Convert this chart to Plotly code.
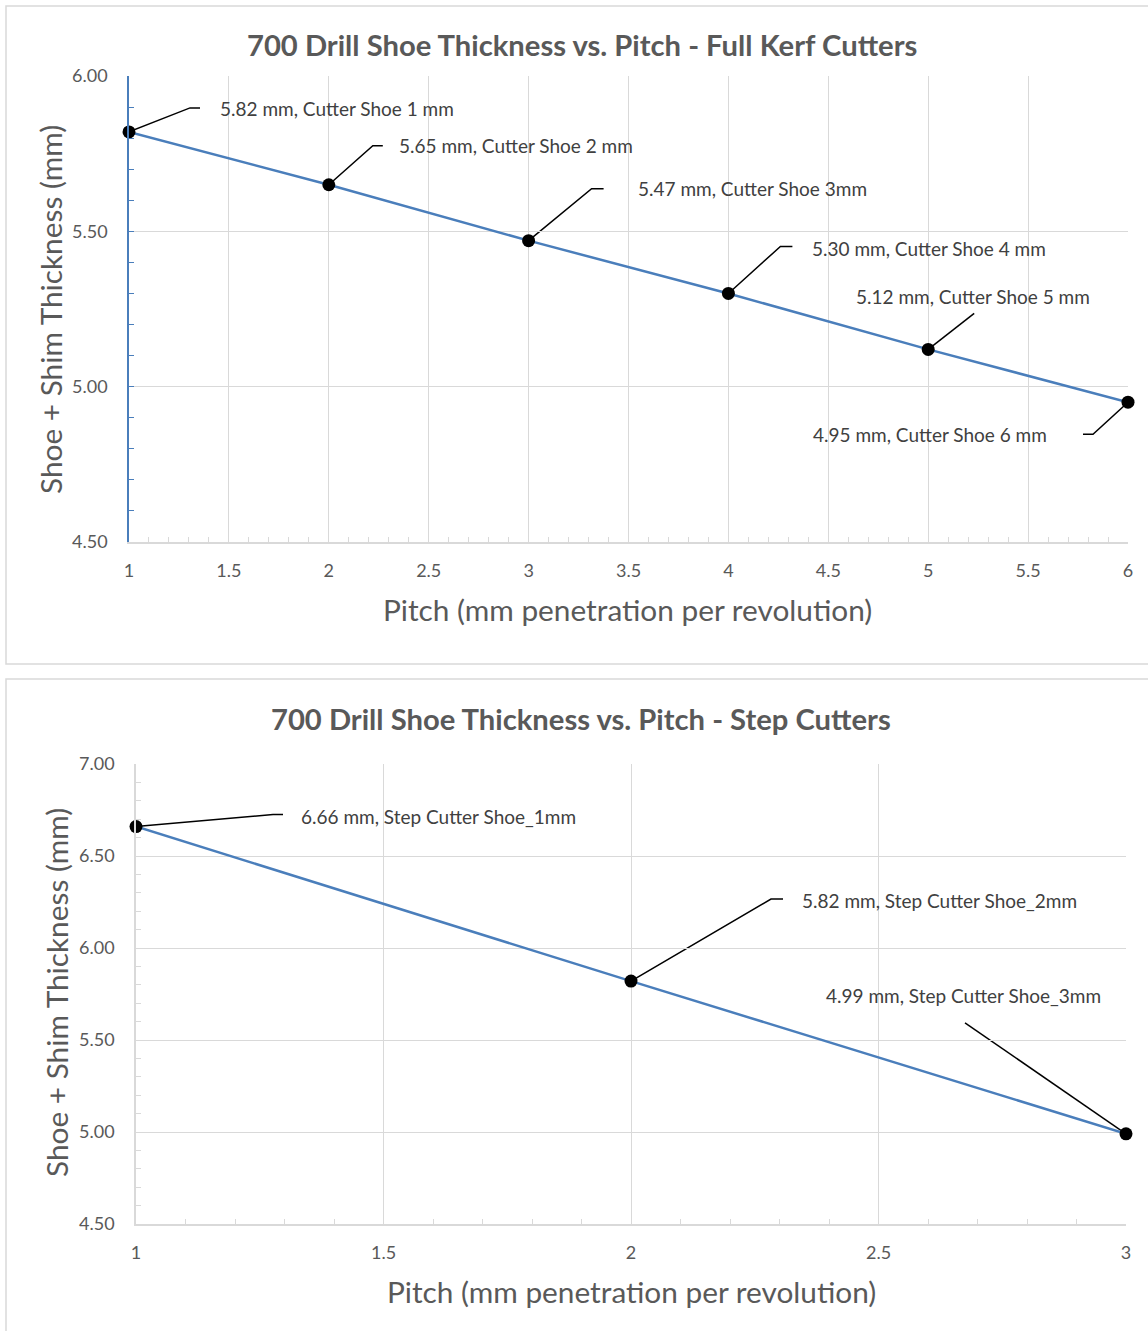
import plotly.graph_objects as go

# ---------------- data ----------------
kerf_pitch = [1, 2, 3, 4, 5, 6]
kerf_thickness = [5.82, 5.65, 5.47, 5.30, 5.12, 4.95]
kerf_names = ["Cutter Shoe 1 mm", "Cutter Shoe 2 mm", "Cutter Shoe 3mm",
              "Cutter Shoe 4 mm", "Cutter Shoe 5 mm", "Cutter Shoe 6 mm"]

step_pitch = [1, 2, 3]
step_thickness = [6.66, 5.82, 4.99]
step_names = ["Step Cutter Shoe_1mm", "Step Cutter Shoe_2mm", "Step Cutter Shoe_3mm"]

title_top = "700 Drill Shoe Thickness vs. Pitch - Full Kerf Cutters"
title_bottom = "700 Drill Shoe Thickness vs. Pitch - Step Cutters"
x_title = "Pitch (mm penetration per revolution)"
y_title = "Shoe + Shim Thickness (mm)"

# ---------------- layout helpers ----------------
W, H = 1148, 1331
FONT = "Lato, Calibri, Carlito, sans-serif"
LINE = "#4a7ebb"
GRID = "#d9d9d9"
TXT = "#595959"
LBL = "#404040"

def px(x):
    return x / W

def py(y):
    return 1 - y / H

# leader-line paths (pixel offsets from the point; +y is up) and label offsets
kerf_leaders = [
    ("M0,0L61,24L71,24", 89, 23, "left"),
    ("M0,0L44,39L54,39", 68, 39, "left"),
    ("M0,0L63,52L75,52", 107, 52, "left"),
    ("M0,0L52,47L64,47", 82, 45, "left"),
    ("M0,0L46,36", 45, 53, "center"),
    ("M0,0L-35,-32L-45,-32", -79, -32, "right"),
]
step_leaders = [
    ("M0,0L137,12L147,12", 163, 10, "left"),
    ("M0,0L140,82L152,82", 169, 81, "left"),
    ("M0,0L-161,111", -163, 138, "center"),
]

fig = go.Figure()

fig.add_trace(go.Scatter(
    x=kerf_pitch, y=kerf_thickness, mode="lines+markers",
    line=dict(color=LINE, width=2.5),
    marker=dict(color="black", size=13),
    cliponaxis=False,
    xaxis="x", yaxis="y", showlegend=False, hoverinfo="x+y"))

fig.add_trace(go.Scatter(
    x=step_pitch, y=step_thickness, mode="lines+markers",
    line=dict(color=LINE, width=2.5),
    marker=dict(color="black", size=13),
    cliponaxis=False,
    xaxis="x2", yaxis="y2", showlegend=False, hoverinfo="x+y"))

shapes = []
annotations = []

def add_labels(xs, ys, names, leaders, xref, yref):
    for x, y, n, (path, dx, dy, anchor) in zip(xs, ys, names, leaders):
        shapes.append(dict(type="path", xref=xref, yref=yref,
                           xsizemode="pixel", ysizemode="pixel",
                           xanchor=x, yanchor=y, path=path,
                           line=dict(color="black", width=1.5), layer="below"))
        annotations.append(dict(x=x, y=y, xref=xref, yref=yref,
                                xshift=dx, yshift=dy, xanchor=anchor,
                                yanchor="middle", showarrow=False,
                                text=f"{y:.2f} mm, {n}",
                                font=dict(family=FONT, size=19, color=LBL)))

add_labels(kerf_pitch, kerf_thickness, kerf_names, kerf_leaders, "x", "y")
add_labels(step_pitch, step_thickness, step_names, step_leaders, "x2", "y2")

# chart borders
shapes.append(dict(type="rect", xref="paper", yref="paper",
                   x0=px(6), x1=1.02, y0=py(664), y1=py(6),
                   line=dict(color=GRID, width=1.5), layer="below"))
shapes.append(dict(type="rect", xref="paper", yref="paper",
                   x0=px(6), x1=1.02, y0=-0.02, y1=py(679),
                   line=dict(color=GRID, width=1.5), layer="below"))

# titles
def text_ann(t, x, y, size, bold=False, angle=0):
    annotations.append(dict(x=px(x), y=py(y), xref="paper", yref="paper",
                            text=f"<b>{t}</b>" if bold else t,
                            showarrow=False, textangle=angle,
                            xanchor="center", yanchor="middle",
                            font=dict(family=FONT, size=size, color=TXT)))

text_ann(title_top, 582, 44, 29.2, bold=True)
text_ann(y_title, 50, 310, 29.8, angle=-90)
text_ann(x_title, 628, 609, 29.8)
text_ann(title_bottom, 581, 718, 29.2, bold=True)
text_ann(y_title, 56, 993, 29.8, angle=-90)
text_ann(x_title, 631, 1291, 29.8)

def xaxis(domain, rng, anchor):
    return dict(domain=domain, range=rng, anchor=anchor, dtick=0.5,
                showgrid=True, gridcolor=GRID, gridwidth=1,
                showline=True, linecolor=GRID, linewidth=1.5,
                ticks="inside", ticklen=5, tickcolor=GRID,
                minor=dict(dtick=0.1, ticks="inside", ticklen=5, tickcolor=GRID, showgrid=False),
                ticklabelstandoff=12, zeroline=False,
                tickfont=dict(family=FONT, size=18, color=TXT))

def yaxis(domain, rng, anchor, color):
    return dict(domain=domain, range=rng, anchor=anchor, dtick=0.5, tickformat=".2f",
                showgrid=True, gridcolor=GRID, gridwidth=1,
                showline=True, linecolor=color, linewidth=1.5,
                ticks="inside", ticklen=5, tickcolor=color,
                minor=dict(dtick=0.1, ticks="inside", ticklen=5, tickcolor=color, showgrid=False),
                ticklabelstandoff=16, zeroline=False,
                tickfont=dict(family=FONT, size=18, color=TXT))

fig.update_layout(
    autosize=True,
    margin=dict(l=0, r=0, t=0, b=0, autoexpand=False),
    paper_bgcolor="white", plot_bgcolor="white",
    font=dict(family=FONT, color=TXT),
    xaxis=xaxis([px(129), px(1128)], [1, 6], "y"),
    yaxis=yaxis([py(542), py(76)], [4.5, 6.0], "x", LINE),
    xaxis2=xaxis([px(136), px(1126)], [1, 3], "y2"),
    yaxis2=yaxis([py(1224), py(764)], [4.5, 7.0], "x2", GRID),
    shapes=shapes,
    annotations=annotations,
    showlegend=False,
)

fig.write_html("out.html", config={"displayModeBar": False, "responsive": True},
               default_width="100vw", default_height="100vh")

# remove default page margins so the figure fills the window exactly
with open("out.html", encoding="utf-8") as f:
    html = f.read()
html = html.replace("<head>",
                    "<head><style>html,body{margin:0;padding:0;overflow:hidden;background:white;}</style>", 1)
with open("out.html", "w", encoding="utf-8") as f:
    f.write(html)
